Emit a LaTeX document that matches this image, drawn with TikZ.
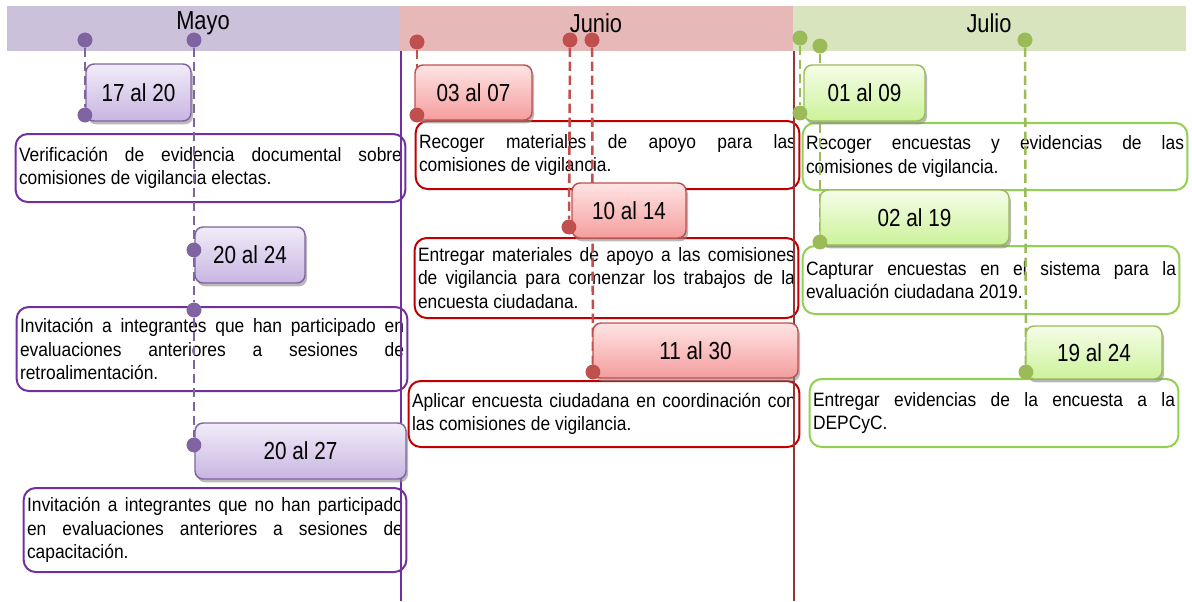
\documentclass[tikz,border=0pt]{standalone}
\usepackage{fontspec}
\setmainfont{Liberation Sans}[FakeStretch=0.9]
\newfontfamily\narrowfont{Liberation Sans}[FakeStretch=0.84]
\usetikzlibrary{shadows}

\definecolor{mayoband}{HTML}{CCC1DA}
\definecolor{junioband}{HTML}{E6B9B8}
\definecolor{julioband}{HTML}{D7E4BD}
\definecolor{mayodot}{HTML}{8064A2}
\definecolor{juniodot}{HTML}{C0504D}
\definecolor{juliodot}{HTML}{9BBB59}
\definecolor{mayoedge}{HTML}{7030A0}
\definecolor{junioedge}{HTML}{C00000}
\definecolor{julioedge}{HTML}{92D050}
\definecolor{juniosep}{HTML}{943634}
\definecolor{mayotop}{HTML}{F1ECF8}
\definecolor{mayobot}{HTML}{C8B5E2}
\definecolor{juniotop}{HTML}{FFE4E4}
\definecolor{juniobot}{HTML}{F59D9D}
\definecolor{juliotop}{HTML}{F5FDE8}
\definecolor{juliobot}{HTML}{CCF29A}

\begin{document}
\begin{tikzpicture}[x=0.75pt,y=-0.75pt,
	month/.style={font=\narrowfont\fontsize{19.5}{22}\selectfont},
	datebox/.style={draw=#1dot, line width=1.1pt, rounded corners=6pt, top color=#1top, bottom color=#1bot,
		drop shadow={shadow xshift=1.5pt, shadow yshift=-2.5pt, fill=black!45, opacity=0.6},
		font=\narrowfont\fontsize{18.5}{20}\selectfont, inner sep=0pt},
	tbox/.style={draw=#1edge, fill=white, line width=1.5pt, rounded corners=9pt, align=justify, inner xsep=2.5pt,
		font=\fontsize{14.5}{17.8}\selectfont},
	dot/.style={circle, fill=#1dot, inner sep=0pt, minimum size=11pt},
	pinline/.style={draw=#1dot, line width=1.9pt, dash pattern=on 7pt off 3.5pt}]
	\useasboundingbox (0,0) rectangle (1192,601);
	% month bands
	\fill[mayoband] (7,6) rectangle (400,51);
	\fill[junioband] (400,6) rectangle (793,51);
	\fill[julioband] (793,6) rectangle (1186,51);
	\node[month] (mayo) at (203,23) {Mayo};
	\node[month] (junio) at (596,23) {Junio};
	\node[month] (julio) at (989,23) {Julio};
	% activities
	\node[tbox=mayo, text width=287.25pt, minimum height=51pt] (verif) at (210.5,168) {Verificación de evidencia documental sobre\linebreak comisiones de vigilancia electas.};
	\node[tbox=mayo, text width=288pt, minimum height=63pt] (invita) at (212,349) {Invitación a integrantes que han participado en\linebreak evaluaciones anteriores a sesiones de\linebreak retroalimentación.};
	\node[tbox=mayo, text width=282pt, minimum height=63pt] (invitb) at (215,530) {Invitación a integrantes que no han participado\linebreak en evaluaciones anteriores a sesiones de\linebreak capacitación.};
	\node[tbox=junio, text width=282.75pt, minimum height=51pt] (recmat) at (607.5,155) {Recoger materiales de apoyo para las\linebreak comisiones de vigilancia.};
	\node[tbox=junio, text width=282.75pt, minimum height=60pt] (entmat) at (606.5,278) {Entregar materiales de apoyo a las comisiones\linebreak de vigilancia para comenzar los trabajos de la\linebreak encuesta ciudadana.};
	\node[tbox=junio, text width=288pt, minimum height=49.5pt] (aplica) at (604,414) {Aplicar encuesta ciudadana en coordinación con\linebreak las comisiones de vigilancia.};
	\node[tbox=julio, text width=283.5pt, minimum height=50.25pt] (recenc) at (995,156.5) {Recoger encuestas y evidencias de las\linebreak comisiones de vigilancia.};
	\node[tbox=julio, text width=277.5pt, minimum height=51pt] (captura) at (991,280) {Capturar encuestas en el sistema para la\linebreak evaluación ciudadana 2019.};
	\node[tbox=julio, text width=271.5pt, minimum height=51pt] (entevi) at (994,413) {Entregar evidencias de la encuesta a la\linebreak DEPCyC.};
	% separators
	\draw[mayoedge, line width=1.5pt] (401,51) -- (401,601);
	\draw[juniosep, line width=1.5pt] (794,51) -- (794,601);
	% pins
	\node[dot=mayo] (may1t) at (85,40){}; \node[dot=mayo] (may1b) at (85,115){};
	\node[dot=mayo] (may2t) at (194,40){}; \node[dot=mayo] (may2a) at (194,250){};
	\node[dot=mayo] (may2b) at (194,310){}; \node[dot=mayo] (may2c) at (194,445){};
	\node[dot=junio] (jun1t) at (417,42){}; \node[dot=junio] (jun1b) at (417,115){};
	\node[dot=junio] (jun2t) at (570,40){}; \node[dot=junio] (jun2b) at (569,227){};
	\node[dot=junio] (jun3t) at (592,40){}; \node[dot=junio] (jun3b) at (593,372){};
	\node[dot=julio] (jul1t) at (800,38){}; \node[dot=julio] (jul1b) at (800,113){};
	\node[dot=julio] (jul2t) at (820,46){}; \node[dot=julio] (jul2b) at (820,242){};
	\node[dot=julio] (jul3t) at (1025,40){}; \node[dot=julio] (jul3b) at (1026,372){};
	\draw[pinline=mayo] (may1t) -- (may1b);
	\draw[pinline=mayo] (may2t) -- (may2a) -- (may2b) -- (may2c);
	\draw[pinline=junio] (jun1t) -- (jun1b);
	\draw[pinline=junio] (jun2t) -- (jun2b);
	\draw[pinline=junio] (jun3t) -- (jun3b);
	\draw[pinline=julio] (jul1t) -- (jul1b);
	\draw[pinline=julio] (jul2t) -- (jul2b);
	\draw[pinline=julio] (jul3t) -- (jul3b);
	% dates
	\node[datebox=mayo, minimum width=78.75pt, minimum height=42.75pt] (d1720) at (138.5,92.5) {17 al 20};
	\node[datebox=mayo, minimum width=82.5pt, minimum height=42pt] (d2024) at (250,255) {20 al 24};
	\node[datebox=mayo, minimum width=158.25pt, minimum height=42pt] (d2027) at (300.5,451) {20 al 27};
	\node[datebox=junio, minimum width=87.75pt, minimum height=41.25pt] (d0307) at (473.5,92.5) {03 al 07};
	\node[datebox=junio, minimum width=85.5pt, minimum height=41.25pt] (d1014) at (629,210.5) {10 al 14};
	\node[datebox=junio, minimum width=153.75pt, minimum height=41.25pt] (d1130) at (695.5,350.5) {11 al 30};
	\node[datebox=julio, minimum width=90.75pt, minimum height=42pt] (d0109) at (864.5,93) {01 al 09};
	\node[datebox=julio, minimum width=141.75pt, minimum height=41.25pt] (d0219) at (914.5,217.5) {02 al 19};
	\node[datebox=julio, minimum width=102pt, minimum height=39.75pt] (d1924) at (1094,352.5) {19 al 24};
	% dots over the boxes
	\foreach \p/\c in {may1t/mayo,may1b/mayo,may2t/mayo,may2a/mayo,may2b/mayo,may2c/mayo,
		jun1t/junio,jun1b/junio,jun2t/junio,jun2b/junio,jun3t/junio,jun3b/junio,
		jul1t/julio,jul1b/julio,jul2t/julio,jul2b/julio,jul3t/julio,jul3b/julio}
		\fill[\c dot] (\p) circle (5.5pt);
\end{tikzpicture}
\end{document}
